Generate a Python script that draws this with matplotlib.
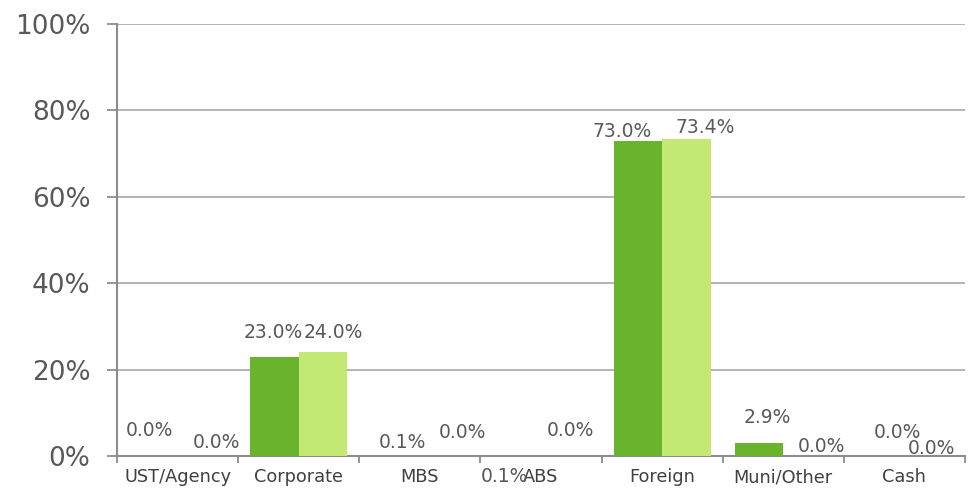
import numpy as np
import matplotlib.pyplot as plt

plt.rcParams['font.family'] = ['DejaVu Sans']

categories = ['UST/Agency', 'Corporate', 'MBS', 'ABS', 'Foreign', 'Muni/Other', 'Cash']
series_a = [0.0, 23.0, 0.1, 0.1, 73.0, 2.9, 0.0]
series_b = [0.0, 24.0, 0.0, 0.0, 73.4, 0.0, 0.0]

# label offsets (pixels from bar top centre) to mimic the original placement
offs_a = [(-4, 26), (-1, 24), (7, 13), (-12, -21), (-16, 9), (8, 26), (17, 24)]
offs_b = [(15, 13), (10, 20), (18, 23), (5, 26), (19, 11), (14, 10), (3, 8)]

dark = '#6AB42D'
light = '#C3E874'
grey_txt = '#595959'

fig = plt.figure(figsize=(9.75, 4.9), dpi=100)
ax = fig.add_axes([117 / 975, 1 - 456 / 490, (965 - 117) / 975, (456 - 24) / 490])

x = np.arange(len(categories))
w = 0.4
ax.bar(x - w / 2, series_a, width=w, color=dark, zorder=3)
ax.bar(x + w / 2, series_b, width=w, color=light, zorder=3)

px = 0.72
for i in range(len(categories)):
    for val, xpos, (dx, dy) in ((series_a[i], x[i] - w / 2, offs_a[i]),
                                 (series_b[i], x[i] + w / 2, offs_b[i])):
        ax.annotate(f'{val:.1f}%', (xpos, val), xytext=(dx * px, dy * px),
                    textcoords='offset points', ha='center', va='center',
                    fontsize=13.5, color=grey_txt, zorder=4)

ax.set_xlim(-0.5, len(categories) - 0.5)
ax.set_ylim(0, 100)
ax.set_yticks(np.arange(0, 101, 20))
ax.set_yticklabels([f'{v}%' for v in range(0, 101, 20)], fontsize=19, color=grey_txt)
ax.yaxis.grid(True, color='#A6A6A6', linewidth=1.2, zorder=0)

ax.set_xticks(np.arange(-0.5, len(categories), 1.0))
ax.set_xticklabels([])
ax.set_xticks(x, minor=True)
ax.set_xticklabels(categories, minor=True, fontsize=12.8, color='#404040')
ax.tick_params(axis='x', which='major', length=5, width=1.3, color='#8C8C8C')
ax.tick_params(axis='x', which='minor', length=0, pad=9)
ax.tick_params(axis='y', length=7, width=1.3, color='#8C8C8C', pad=12)

for s in ('top', 'right'):
    ax.spines[s].set_visible(False)
for s in ('left', 'bottom'):
    ax.spines[s].set_color('#8C8C8C')
    ax.spines[s].set_linewidth(1.5)

fig.savefig('out.png', dpi=100)
